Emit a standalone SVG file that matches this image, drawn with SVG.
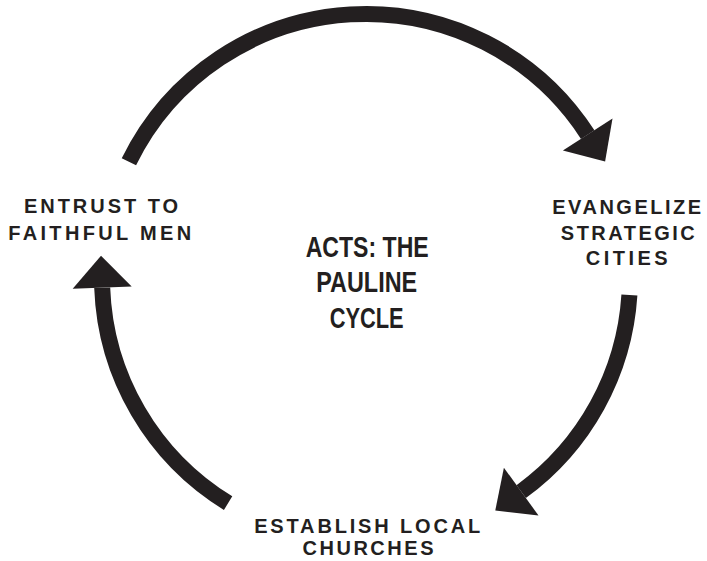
<svg xmlns="http://www.w3.org/2000/svg" width="707" height="561" viewBox="0 0 707 561">
<style>
.arc{fill:none;stroke:#231f20;stroke-width:16;stroke-linecap:butt}
.head{fill:#231f20}
.lbl{font-family:"Liberation Sans",Arial,sans-serif;font-weight:bold;font-size:20px;fill:#231f20;text-anchor:middle}
.ttl{font-family:"Liberation Sans Narrow","Liberation Sans",Arial,sans-serif;font-weight:bold;font-size:29px;fill:#231f20;text-anchor:middle}
</style>
<rect width="707" height="561" fill="#ffffff"/>
<g id="connectors">
<path class="arc" d="M128.9,161.8 A264,264 0 0 1 587.7,134.6"/>
<polygon class="head" points="605.1,161.5 612.5,118.6 562.9,150.6"/>
<path class="arc" d="M629.4,295 A264,264 0 0 1 521.2,491.6"/>
<polygon class="head" points="495.3,510.4 538.5,515.5 503.9,467.7"/>
<path class="arc" d="M228.1,503.1 A264,264 0 0 1 102.2,287.7"/>
<polygon class="head" points="101,255.7 72.7,288.8 131.7,286.6"/>
</g>
<g id="node-entrust">
<text class="lbl" x="101" y="212.7" textLength="154" lengthAdjust="spacing">ENTRUST TO</text>
<text class="lbl" x="99.7" y="239.5" textLength="183" lengthAdjust="spacing">FAITHFUL MEN</text>
</g>
<g id="node-evangelize">
<text class="lbl" x="626.7" y="213.5" textLength="149" lengthAdjust="spacing">EVANGELIZE</text>
<text class="lbl" x="627.8" y="240.2" textLength="134" lengthAdjust="spacing">STRATEGIC</text>
<text class="lbl" x="626.7" y="265.2" textLength="82" lengthAdjust="spacing">CITIES</text>
</g>
<g id="node-establish">
<text class="lbl" x="367.2" y="532.5" textLength="226" lengthAdjust="spacing">ESTABLISH LOCAL</text>
<text class="lbl" x="368" y="555.2" textLength="131" lengthAdjust="spacing">CHURCHES</text>
</g>
<g id="node-title">
<text class="ttl" x="367.2" y="257.3" textLength="123" lengthAdjust="spacingAndGlyphs">ACTS: THE</text>
<text class="ttl" x="366.7" y="291.7" textLength="101" lengthAdjust="spacingAndGlyphs">PAULINE</text>
<text class="ttl" x="366.7" y="328.3" textLength="74" lengthAdjust="spacingAndGlyphs">CYCLE</text>
</g>
</svg>
